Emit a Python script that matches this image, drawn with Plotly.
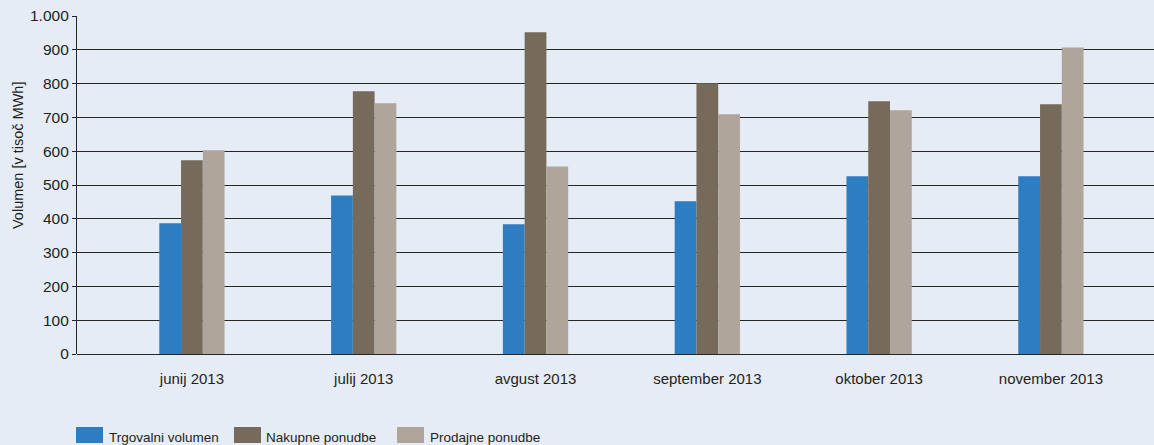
import plotly.graph_objects as go

categories = ["junij 2013", "julij 2013", "avgust 2013", "september 2013", "oktober 2013", "november 2013"]
series_names = ["Trgovalni volumen", "Nakupne ponudbe", "Prodajne ponudbe"]
trgovalni = [387, 469, 384, 452, 526, 526]
nakupne = [573, 777, 952, 801, 748, 739]
prodajne = [603, 742, 555, 709, 721, 907]
colors = ["#2E7DC0", "#766A5A", "#AFA59A"]
y_ticks = [0, 100, 200, 300, 400, 500, 600, 700, 800, 900, 1000]

W, H = 1154, 445
ML, MR, MT, MB = 77, 0, 16, 91
PW, PH = W - ML - MR, H - MT - MB

def px_x(x):
    return (x - ML) / PW

def px_y(y):
    return (H - MB - y) / PH

font_family = "Liberation Sans, Arial, Helvetica, sans-serif"
text_color = "#231F20"
grid_color = "#262626"

fig = go.Figure()
for name, vals, col in zip(series_names, [trgovalni, nakupne, prodajne], colors):
    fig.add_trace(go.Bar(x=categories, y=vals, name=name, marker=dict(color=col, line=dict(width=0)),
                         showlegend=False))

fig.update_layout(
    width=W, height=H,
    margin=dict(l=ML, r=MR, t=MT, b=MB, pad=0),
    paper_bgcolor="#E5ECF6", plot_bgcolor="#E5ECF6",
    barmode="group", bargap=0.62, bargroupgap=0,
    separators=",.",
    font=dict(family=font_family, color=text_color, size=15),
)

fig.update_xaxes(
    type="category", range=[-0.669, 5.6], showgrid=False, showline=False, zeroline=False,
    ticks="", ticklabelstandoff=14, tickfont=dict(size=15, color=text_color),
)
fig.update_yaxes(
    range=[0, 1000], tickvals=y_ticks, tickformat=",", showgrid=True, gridcolor=grid_color, gridwidth=1.2,
    zeroline=True, zerolinecolor=grid_color, zerolinewidth=1.2,
    showline=True, linecolor=grid_color, linewidth=1.2,
    ticks="outside", ticklen=4, tickcolor=grid_color, tickwidth=1,
    tickfont=dict(size=15.5, color=text_color),
)

# y-axis title
fig.add_annotation(text="Volumen [v tisoč MWh]", textangle=-90, xref="paper", yref="paper",
                   x=px_x(18), y=px_y(156), xanchor="center", yanchor="middle", showarrow=False,
                   font=dict(size=14.5, color=text_color, family=font_family))

# manual legend
sq_left = [76, 234, 397]
txt_left = [107, 264, 428]
for name, col, sx, tx in zip(series_names, colors, sq_left, txt_left):
    fig.add_shape(type="rect", xref="paper", yref="paper", x0=px_x(sx), x1=px_x(sx + 27),
                  y0=px_y(443), y1=px_y(427), fillcolor=col, line=dict(width=0))
    fig.add_annotation(text=name, xref="paper", yref="paper", x=px_x(tx), y=px_y(437),
                       xanchor="left", yanchor="middle", showarrow=False,
                       font=dict(size=13.5, color=text_color, family=font_family))

fig.write_html("out.html")
